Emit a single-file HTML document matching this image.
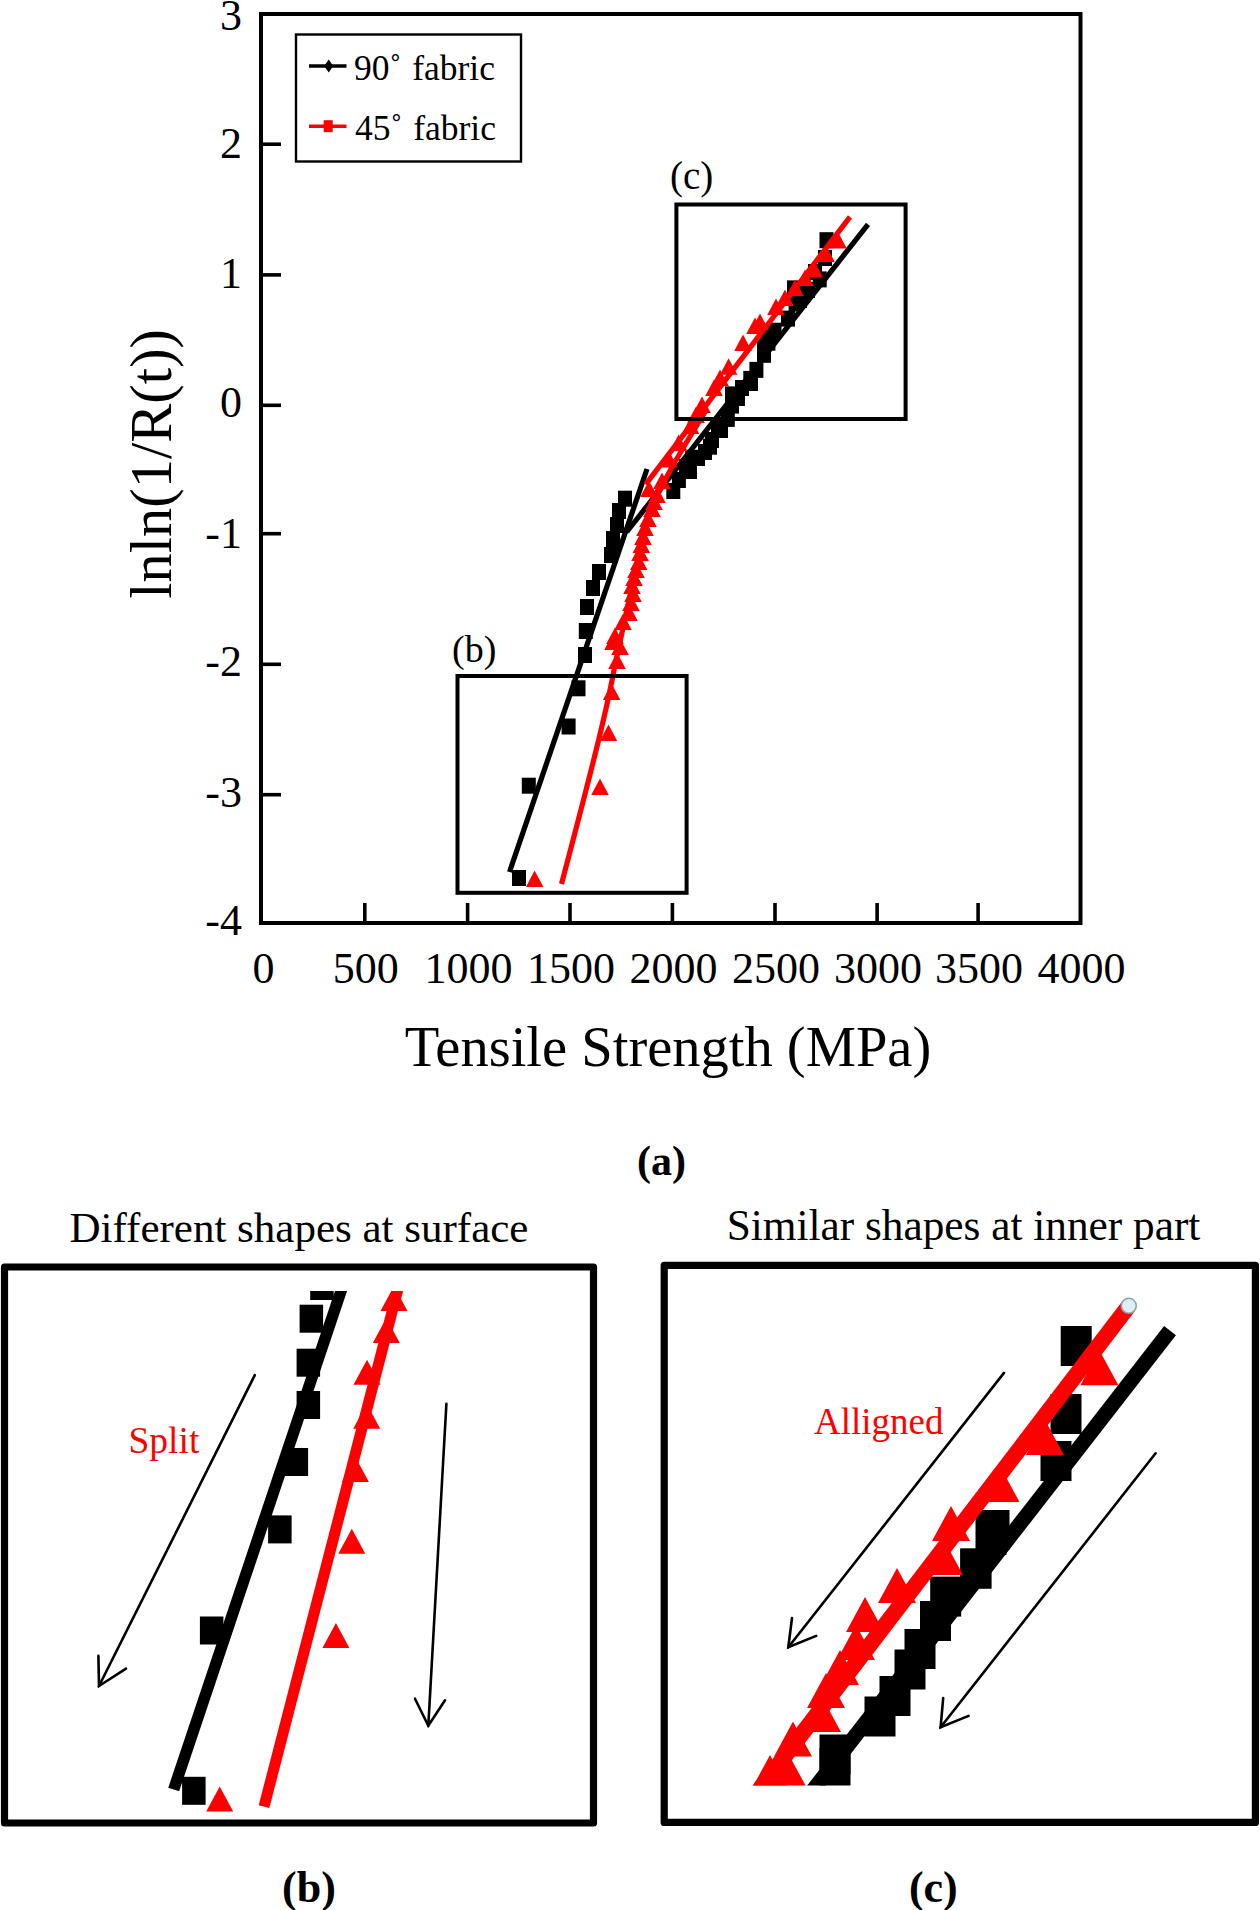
<!DOCTYPE html><html><head><meta charset="utf-8"><style>html,body{margin:0;padding:0;background:#fff;}svg{display:block;}</style></head><body>
<svg width="1260" height="1910" viewBox="0 0 1260 1910" font-family='"Liberation Serif", serif'>
<rect width="1260" height="1910" fill="#fff"/>
<rect x="261" y="14" width="819.5" height="909" fill="none" stroke="#000" stroke-width="4"/>
<line x1="261.0" y1="144.2" x2="281.0" y2="144.2" stroke="#000" stroke-width="3.6" stroke-linecap="butt"/>
<line x1="261.0" y1="274.9" x2="281.0" y2="274.9" stroke="#000" stroke-width="3.6" stroke-linecap="butt"/>
<line x1="261.0" y1="405.3" x2="281.0" y2="405.3" stroke="#000" stroke-width="3.6" stroke-linecap="butt"/>
<line x1="261.0" y1="533.7" x2="281.0" y2="533.7" stroke="#000" stroke-width="3.6" stroke-linecap="butt"/>
<line x1="261.0" y1="664.3" x2="281.0" y2="664.3" stroke="#000" stroke-width="3.6" stroke-linecap="butt"/>
<line x1="261.0" y1="794.7" x2="281.0" y2="794.7" stroke="#000" stroke-width="3.6" stroke-linecap="butt"/>
<line x1="364.8" y1="923.0" x2="364.8" y2="903.0" stroke="#000" stroke-width="3.6" stroke-linecap="butt"/>
<line x1="467.6" y1="923.0" x2="467.6" y2="903.0" stroke="#000" stroke-width="3.6" stroke-linecap="butt"/>
<line x1="570.0" y1="923.0" x2="570.0" y2="903.0" stroke="#000" stroke-width="3.6" stroke-linecap="butt"/>
<line x1="672.4" y1="923.0" x2="672.4" y2="903.0" stroke="#000" stroke-width="3.6" stroke-linecap="butt"/>
<line x1="775.0" y1="923.0" x2="775.0" y2="903.0" stroke="#000" stroke-width="3.6" stroke-linecap="butt"/>
<line x1="877.1" y1="923.0" x2="877.1" y2="903.0" stroke="#000" stroke-width="3.6" stroke-linecap="butt"/>
<line x1="978.1" y1="923.0" x2="978.1" y2="903.0" stroke="#000" stroke-width="3.6" stroke-linecap="butt"/>
<text x="242" y="29.5" font-size="44" text-anchor="end">3</text>
<text x="242" y="158.1" font-size="44" text-anchor="end">2</text>
<text x="242" y="288.4" font-size="44" text-anchor="end">1</text>
<text x="242" y="416.9" font-size="44" text-anchor="end">0</text>
<text x="242" y="547.7" font-size="44" text-anchor="end">-1</text>
<text x="242" y="675.9" font-size="44" text-anchor="end">-2</text>
<text x="242" y="806.6" font-size="44" text-anchor="end">-3</text>
<text x="242" y="934.9" font-size="44" text-anchor="end">-4</text>
<text x="263.4" y="983" font-size="44" text-anchor="middle">0</text>
<text x="365.8" y="983" font-size="44" text-anchor="middle">500</text>
<text x="468.6" y="983" font-size="44" text-anchor="middle">1000</text>
<text x="571.0" y="983" font-size="44" text-anchor="middle">1500</text>
<text x="673.4" y="983" font-size="44" text-anchor="middle">2000</text>
<text x="776.0" y="983" font-size="44" text-anchor="middle">2500</text>
<text x="878.1" y="983" font-size="44" text-anchor="middle">3000</text>
<text x="979.1" y="983" font-size="44" text-anchor="middle">3500</text>
<text x="1081.5" y="983" font-size="44" text-anchor="middle">4000</text>
<text x="668" y="1066" font-size="56.5" text-anchor="middle">Tensile Strength (MPa)</text>
<text transform="translate(170.5,464) rotate(-90)" font-size="58.5" text-anchor="middle">lnln(1/R(t))</text>
<rect x="296" y="34.5" width="225" height="127" fill="none" stroke="#000" stroke-width="2.4"/>
<line x1="309.0" y1="66.0" x2="346.5" y2="66.0" stroke="#000" stroke-width="3.5" stroke-linecap="butt"/>
<polygon points="328.7,59.5 333.2,66 328.7,72.5 324.2,66" fill="#000"/>
<text x="354" y="79.5" font-size="35.5" word-spacing="2">90˚ fabric</text>
<line x1="309.0" y1="126.2" x2="346.5" y2="126.2" stroke="#ff0000" stroke-width="3.5" stroke-linecap="butt"/>
<rect x="323.7" y="120.2" width="9" height="12" fill="#ff0000"/>
<text x="355" y="139.5" font-size="35.5" word-spacing="2">45˚ fabric</text>
<text x="452" y="662" font-size="38">(b)</text>
<text x="670" y="188.5" font-size="39">(c)</text>
<line x1="509.5" y1="872.0" x2="647.0" y2="469.0" stroke="#000" stroke-width="5.2" stroke-linecap="butt"/>
<line x1="626.7" y1="532.0" x2="868.0" y2="224.3" stroke="#000" stroke-width="5.2" stroke-linecap="butt"/>
<rect x="512.0" y="870.0" width="14" height="16" fill="#000"/>
<rect x="521.8" y="777.7" width="14" height="16" fill="#000"/>
<rect x="561.6" y="718.5" width="14" height="16" fill="#000"/>
<rect x="571.5" y="680.3" width="14" height="16" fill="#000"/>
<rect x="578.0" y="647.0" width="14" height="16" fill="#000"/>
<rect x="578.8" y="623.0" width="14" height="16" fill="#000"/>
<rect x="580.0" y="599.0" width="14" height="16" fill="#000"/>
<rect x="586.0" y="580.0" width="14" height="16" fill="#000"/>
<rect x="592.0" y="564.0" width="14" height="16" fill="#000"/>
<rect x="604.0" y="547.0" width="14" height="16" fill="#000"/>
<rect x="606.0" y="531.0" width="14" height="16" fill="#000"/>
<rect x="610.0" y="517.0" width="14" height="16" fill="#000"/>
<rect x="612.0" y="503.0" width="14" height="16" fill="#000"/>
<rect x="618.0" y="490.7" width="14" height="16" fill="#000"/>
<rect x="666.3" y="483.0" width="14" height="16" fill="#000"/>
<rect x="671.9" y="472.0" width="14" height="16" fill="#000"/>
<rect x="683.0" y="463.0" width="14" height="16" fill="#000"/>
<rect x="685.2" y="449.8" width="14" height="16" fill="#000"/>
<rect x="703.0" y="438.7" width="14" height="16" fill="#000"/>
<rect x="714.0" y="422.0" width="14" height="16" fill="#000"/>
<rect x="720.8" y="410.9" width="14" height="16" fill="#000"/>
<rect x="725.0" y="397.6" width="14" height="16" fill="#000"/>
<rect x="725.0" y="386.4" width="14" height="16" fill="#000"/>
<rect x="744.0" y="375.0" width="14" height="16" fill="#000"/>
<rect x="705.0" y="432.0" width="14" height="16" fill="#000"/>
<rect x="698.0" y="444.0" width="14" height="16" fill="#000"/>
<rect x="711.0" y="420.0" width="14" height="16" fill="#000"/>
<rect x="731.0" y="390.0" width="14" height="16" fill="#000"/>
<rect x="735.0" y="380.0" width="14" height="16" fill="#000"/>
<rect x="679.0" y="459.0" width="14" height="16" fill="#000"/>
<rect x="691.0" y="450.0" width="14" height="16" fill="#000"/>
<rect x="757.0" y="334.0" width="14" height="16" fill="#000"/>
<rect x="763.0" y="328.0" width="14" height="16" fill="#000"/>
<rect x="793.0" y="292.0" width="14" height="16" fill="#000"/>
<rect x="801.0" y="282.0" width="14" height="16" fill="#000"/>
<rect x="808.0" y="264.0" width="14" height="16" fill="#000"/>
<rect x="743.3" y="370.9" width="14" height="16" fill="#000"/>
<rect x="749.4" y="361.9" width="14" height="16" fill="#000"/>
<rect x="757.0" y="346.8" width="14" height="16" fill="#000"/>
<rect x="761.4" y="334.7" width="14" height="16" fill="#000"/>
<rect x="767.5" y="322.7" width="14" height="16" fill="#000"/>
<rect x="781.0" y="310.6" width="14" height="16" fill="#000"/>
<rect x="788.6" y="295.5" width="14" height="16" fill="#000"/>
<rect x="787.0" y="280.4" width="14" height="16" fill="#000"/>
<rect x="812.7" y="271.4" width="14" height="16" fill="#000"/>
<rect x="818.0" y="250.0" width="14" height="16" fill="#000"/>
<rect x="819.5" y="232.2" width="14" height="16" fill="#000"/>
<path d="M561.5,884 C590,776 606,714 614,670 C624,624 637,560 647,522 C657,488 688,440 705,412" fill="none" stroke="#ff0000" stroke-width="5.2"/>
<line x1="645.7" y1="484.3" x2="850.0" y2="216.8" stroke="#ff0000" stroke-width="5.2" stroke-linecap="butt"/>
<polygon points="525.9,887.0 543.4,887.0 534.6,870.5" fill="#ff0000"/>
<polygon points="591.2,795.0 608.8,795.0 600.0,778.5" fill="#ff0000"/>
<polygon points="599.8,741.0 617.2,741.0 608.5,724.5" fill="#ff0000"/>
<polygon points="602.9,700.0 620.4,700.0 611.6,683.5" fill="#ff0000"/>
<polygon points="608.2,669.0 625.8,669.0 617.0,652.5" fill="#ff0000"/>
<polygon points="606.2,644.0 623.8,644.0 615.0,627.5" fill="#ff0000"/>
<polygon points="620.2,621.0 637.8,621.0 629.0,604.5" fill="#ff0000"/>
<polygon points="624.2,602.0 641.8,602.0 633.0,585.5" fill="#ff0000"/>
<polygon points="625.2,586.0 642.8,586.0 634.0,569.5" fill="#ff0000"/>
<polygon points="630.0,570.0 647.5,570.0 638.7,553.5" fill="#ff0000"/>
<polygon points="632.6,553.0 650.1,553.0 641.4,536.5" fill="#ff0000"/>
<polygon points="636.2,536.0 653.8,536.0 645.0,519.5" fill="#ff0000"/>
<polygon points="643.2,517.0 660.8,517.0 652.0,500.5" fill="#ff0000"/>
<polygon points="648.2,503.0 665.8,503.0 657.0,486.5" fill="#ff0000"/>
<polygon points="829.2,248.5 846.8,248.5 838.0,232.0" fill="#ff0000"/>
<polygon points="805.2,277.0 822.8,277.0 814.0,260.5" fill="#ff0000"/>
<polygon points="786.2,296.0 803.8,296.0 795.0,279.5" fill="#ff0000"/>
<polygon points="767.2,315.0 784.8,315.0 776.0,298.5" fill="#ff0000"/>
<polygon points="746.2,334.0 763.8,334.0 755.0,317.5" fill="#ff0000"/>
<polygon points="734.2,351.0 751.8,351.0 743.0,334.5" fill="#ff0000"/>
<polygon points="719.9,374.7 737.4,374.7 728.6,358.2" fill="#ff0000"/>
<polygon points="705.2,396.0 722.8,396.0 714.0,379.5" fill="#ff0000"/>
<polygon points="693.2,413.0 710.8,413.0 702.0,396.5" fill="#ff0000"/>
<polygon points="681.8,434.0 699.2,434.0 690.5,417.5" fill="#ff0000"/>
<polygon points="669.9,451.0 687.4,451.0 678.6,434.5" fill="#ff0000"/>
<polygon points="660.2,467.5 677.8,467.5 669.0,451.0" fill="#ff0000"/>
<polygon points="653.2,489.0 670.8,489.0 662.0,472.5" fill="#ff0000"/>
<polygon points="751.2,330.0 768.8,330.0 760.0,313.5" fill="#ff0000"/>
<polygon points="776.2,306.0 793.8,306.0 785.0,289.5" fill="#ff0000"/>
<polygon points="796.2,286.0 813.8,286.0 805.0,269.5" fill="#ff0000"/>
<polygon points="817.2,262.0 834.8,262.0 826.0,245.5" fill="#ff0000"/>
<polygon points="711.2,386.0 728.8,386.0 720.0,369.5" fill="#ff0000"/>
<polygon points="687.2,423.0 704.8,423.0 696.0,406.5" fill="#ff0000"/>
<polygon points="640.2,497.0 657.8,497.0 649.0,480.5" fill="#ff0000"/>
<polygon points="614.2,630.0 631.8,630.0 623.0,613.5" fill="#ff0000"/>
<polygon points="622.2,611.0 639.8,611.0 631.0,594.5" fill="#ff0000"/>
<polygon points="623.2,594.0 640.8,594.0 632.0,577.5" fill="#ff0000"/>
<polygon points="627.2,578.0 644.8,578.0 636.0,561.5" fill="#ff0000"/>
<polygon points="631.2,561.0 648.8,561.0 640.0,544.5" fill="#ff0000"/>
<polygon points="634.2,545.0 651.8,545.0 643.0,528.5" fill="#ff0000"/>
<polygon points="639.2,527.0 656.8,527.0 648.0,510.5" fill="#ff0000"/>
<polygon points="645.2,510.0 662.8,510.0 654.0,493.5" fill="#ff0000"/>
<polygon points="611.2,655.0 628.8,655.0 620.0,638.5" fill="#ff0000"/>
<polygon points="604.2,650.0 621.8,650.0 613.0,633.5" fill="#ff0000"/>
<rect x="457.5" y="676" width="229.1" height="216.8" fill="none" stroke="#000" stroke-width="4"/>
<rect x="676.4" y="204.5" width="229.2" height="214.5" fill="none" stroke="#000" stroke-width="4"/>
<defs><clipPath id="cb"><rect x="8" y="1291" width="582" height="528"/></clipPath><clipPath id="cc"><rect x="668" y="1270" width="584" height="515.6"/></clipPath></defs>
<rect x="4.5" y="1267" width="589" height="556" fill="none" stroke="#000" stroke-width="7.2" stroke-linejoin="round"/>
<text x="299" y="1241.6" font-size="43" text-anchor="middle">Different shapes at surface</text>
<g clip-path="url(#cb)">
<line x1="344.7" y1="1280.0" x2="173.7" y2="1789.5" stroke="#000" stroke-width="11.5" stroke-linecap="butt"/>
<line x1="399.0" y1="1285.0" x2="264.0" y2="1806.7" stroke="#ff0000" stroke-width="11" stroke-linecap="butt"/>
<rect x="310.2" y="1272.0" width="23.5" height="28" fill="#000"/>
<rect x="299.6" y="1304.7" width="23.5" height="28" fill="#000"/>
<rect x="296.6" y="1348.7" width="23.5" height="28" fill="#000"/>
<rect x="296.6" y="1391.0" width="23.5" height="28" fill="#000"/>
<rect x="284.6" y="1448.0" width="23.5" height="28" fill="#000"/>
<rect x="268.1" y="1515.4" width="23.5" height="28" fill="#000"/>
<rect x="199.9" y="1616.5" width="23.5" height="28" fill="#000"/>
<rect x="182.1" y="1776.8" width="23.5" height="28" fill="#000"/>
<polygon points="380.5,1311.0 407.5,1311.0 394.0,1286.0" fill="#ff0000"/>
<polygon points="372.8,1343.0 399.8,1343.0 386.3,1318.0" fill="#ff0000"/>
<polygon points="353.5,1384.8 380.5,1384.8 367.0,1359.8" fill="#ff0000"/>
<polygon points="353.2,1428.8 380.2,1428.8 366.7,1403.8" fill="#ff0000"/>
<polygon points="341.9,1482.0 368.9,1482.0 355.4,1457.0" fill="#ff0000"/>
<polygon points="338.3,1553.8 365.3,1553.8 351.8,1528.8" fill="#ff0000"/>
<polygon points="322.4,1648.0 349.4,1648.0 335.9,1623.0" fill="#ff0000"/>
<polygon points="206.2,1811.4 233.2,1811.4 219.7,1786.4" fill="#ff0000"/>
</g>
<g stroke="#000" stroke-width="2.6" fill="none" stroke-linecap="round" stroke-linejoin="miter">
<line x1="254.8" y1="1375.2" x2="99" y2="1686"/><polyline points="98.4,1655.9 99,1686 126,1668.6"/>
<line x1="446.4" y1="1403.8" x2="428.3" y2="1725.7"/><polyline points="415,1698.7 428.3,1725.7 445,1700.3"/>
</g>
<text x="128.5" y="1453.2" font-size="37.5" fill="#ff0000">Split</text>
<rect x="664.2" y="1265.3" width="591.2" height="557.1" fill="none" stroke="#000" stroke-width="7.2" stroke-linejoin="round"/>
<text x="963.5" y="1239.6" font-size="43.3" text-anchor="middle">Similar shapes at inner part</text>
<g clip-path="url(#cc)">
<line x1="1170.0" y1="1330.6" x2="800.0" y2="1807.0" stroke="#000" stroke-width="15" stroke-linecap="butt"/>
<rect x="1060.7" y="1326.0" width="31" height="40" fill="#000"/>
<rect x="1050.5" y="1394.0" width="31" height="40" fill="#000"/>
<rect x="1040.5" y="1441.0" width="31" height="40" fill="#000"/>
<rect x="978.5" y="1510.0" width="31" height="40" fill="#000"/>
<rect x="960.2" y="1548.6" width="31" height="40" fill="#000"/>
<rect x="930.2" y="1576.6" width="31" height="40" fill="#000"/>
<rect x="920.0" y="1601.0" width="31" height="40" fill="#000"/>
<rect x="904.5" y="1629.0" width="31" height="40" fill="#000"/>
<rect x="894.5" y="1649.5" width="31" height="40" fill="#000"/>
<rect x="879.5" y="1676.0" width="31" height="40" fill="#000"/>
<rect x="864.5" y="1696.5" width="31" height="40" fill="#000"/>
<rect x="819.5" y="1734.5" width="31" height="40" fill="#000"/>
<rect x="819.5" y="1748.0" width="31" height="40" fill="#000"/>
<rect x="975.5" y="1515.0" width="31" height="40" fill="#000"/>
<rect x="960.5" y="1548.5" width="31" height="40" fill="#000"/>
<line x1="1128.8" y1="1305.8" x2="759.0" y2="1790.0" stroke="#ff0000" stroke-width="16" stroke-linecap="butt"/>
<polygon points="1080.4,1385.2 1118.4,1385.2 1099.4,1350.2" fill="#ff0000"/>
<polygon points="1026.0,1455.0 1064.0,1455.0 1045.0,1420.0" fill="#ff0000"/>
<polygon points="981.5,1502.0 1019.5,1502.0 1000.5,1467.0" fill="#ff0000"/>
<polygon points="932.0,1541.0 970.0,1541.0 951.0,1506.0" fill="#ff0000"/>
<polygon points="925.0,1575.0 963.0,1575.0 944.0,1540.0" fill="#ff0000"/>
<polygon points="878.0,1603.0 916.0,1603.0 897.0,1568.0" fill="#ff0000"/>
<polygon points="846.0,1632.0 884.0,1632.0 865.0,1597.0" fill="#ff0000"/>
<polygon points="837.0,1660.0 875.0,1660.0 856.0,1625.0" fill="#ff0000"/>
<polygon points="821.0,1685.0 859.0,1685.0 840.0,1650.0" fill="#ff0000"/>
<polygon points="807.0,1708.0 845.0,1708.0 826.0,1673.0" fill="#ff0000"/>
<polygon points="803.0,1732.0 841.0,1732.0 822.0,1697.0" fill="#ff0000"/>
<polygon points="774.0,1756.5 812.0,1756.5 793.0,1721.5" fill="#ff0000"/>
<polygon points="770.0,1790.0 808.0,1790.0 789.0,1755.0" fill="#ff0000"/>
<polygon points="751.0,1790.0 789.0,1790.0 770.0,1755.0" fill="#ff0000"/>
</g>
<circle cx="1128.8" cy="1305.8" r="7.5" fill="#dceff4" stroke="#8da4ab" stroke-width="1.6"/>
<g stroke="#000" stroke-width="2.6" fill="none" stroke-linecap="round">
<line x1="1004" y1="1372.9" x2="788.3" y2="1647.3"/><polyline points="792,1618 788.3,1647.3 816.2,1635.9"/>
<line x1="1155.6" y1="1453.3" x2="940.6" y2="1727.3"/><polyline points="943.2,1698 940.6,1727.3 968.6,1715.9"/>
</g>
<text x="814" y="1434.4" font-size="37" fill="#ff0000">Alligned</text>
<text x="661.4" y="1175" font-size="42" font-weight="bold" text-anchor="middle">(a)</text>
<text x="309" y="1902" font-size="44" font-weight="bold" text-anchor="middle">(b)</text>
<text x="933.3" y="1902" font-size="44" font-weight="bold" text-anchor="middle">(c)</text>
</svg></body></html>
